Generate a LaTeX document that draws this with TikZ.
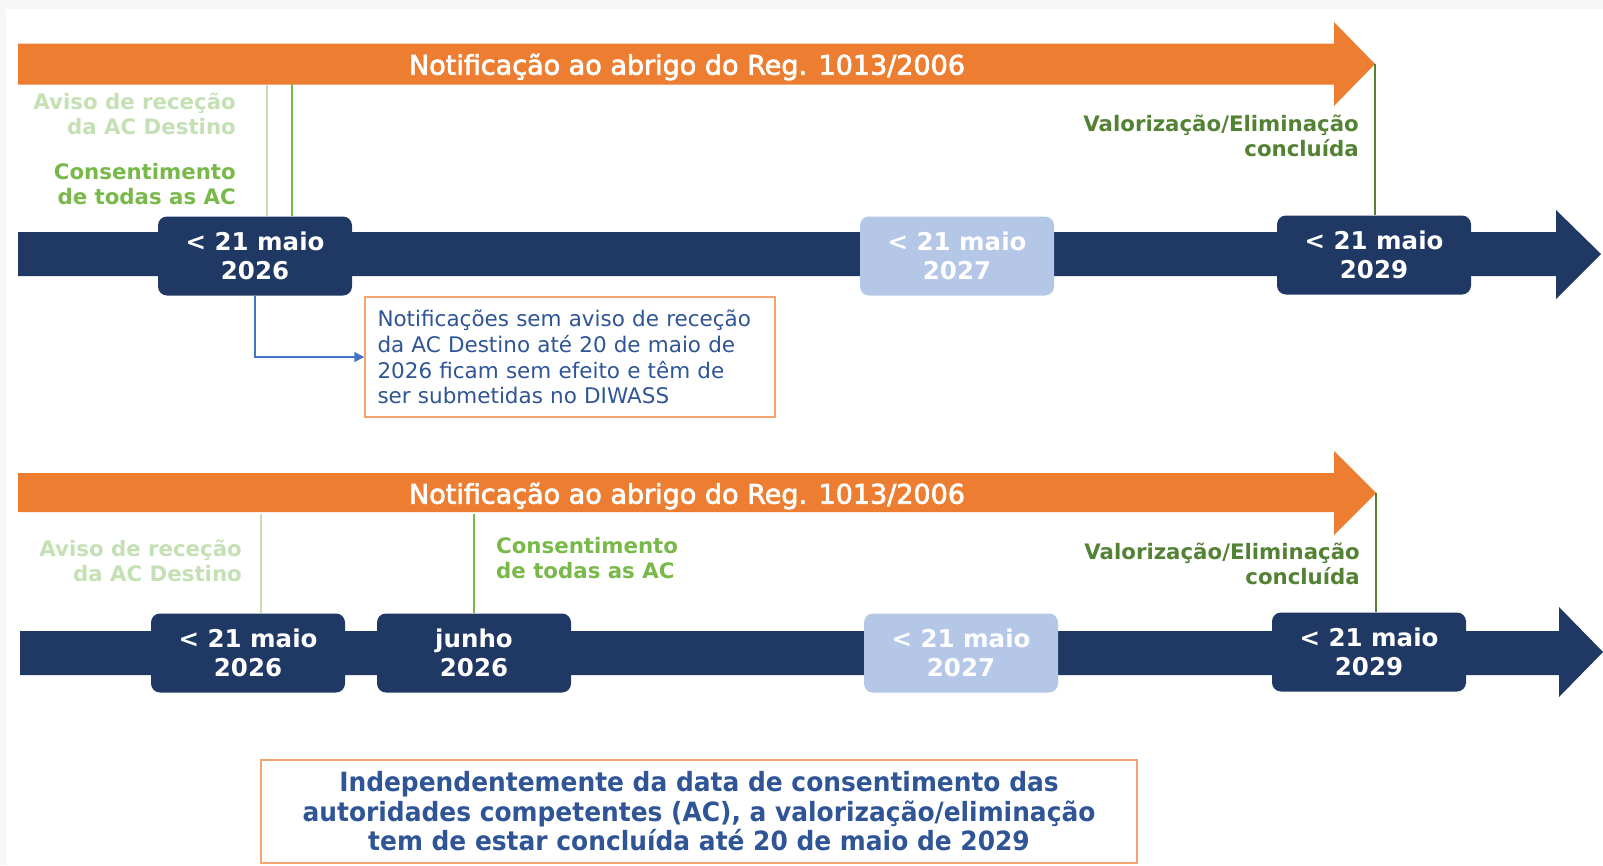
\documentclass[tikz,border=0pt]{standalone}
\usepackage{fontspec}
\setmainfont{DejaVu Sans}
\newfontfamily\narrowfont[FakeStretch=0.94]{DejaVu Sans}
\newfontfamily\titlefont[FakeBold=2.5]{DejaVu Sans}
\usetikzlibrary{arrows.meta}
\definecolor{notiforange}{HTML}{ED7D31}
\definecolor{navyline}{HTML}{203864}
\definecolor{paleblue}{HTML}{B4C7E7}
\definecolor{palegreen}{HTML}{C5E0B4}
\definecolor{midgreen}{HTML}{78B94A}
\definecolor{darkgreen}{HTML}{548235}
\definecolor{textblue}{HTML}{2F5597}
\definecolor{linkblue}{HTML}{4472C4}
\definecolor{boxorange}{HTML}{F4A46E}
\definecolor{pagegray}{HTML}{F7F7F7}

\begin{document}
\begin{tikzpicture}
	[
		x=1pt, y=-1pt,
		every node/.style = {inner sep=0pt},
		datebox/.style = {
			shape=rectangle, rounded corners=9pt, fill=navyline,
			minimum width=194pt, minimum height=79pt,
			align=center, text=white,
			font=\fontsize{24.5}{29.6}\selectfont\bfseries
		},
		laterbox/.style = {datebox, fill=paleblue},
		notiftitle/.style = {text=white, font=\titlefont\fontsize{27}{32}\selectfont},
		aviso/.style = {
			text=palegreen, align=right,
			font=\fontsize{21.3}{25.6}\selectfont\bfseries
		},
		consent/.style = {aviso, text=midgreen},
		concluded/.style = {aviso, text=darkgreen},
		avisoline/.style = {draw=palegreen, line width=2pt},
		consentline/.style = {draw=midgreen, line width=2pt},
		concludedline/.style = {draw=darkgreen, line width=2pt},
		notebox/.style = {
			draw=boxorange, line width=1.5pt, text=textblue,
			minimum width=410pt, minimum height=120pt,
			text width=385pt, inner xsep=12.5pt, align=left,
			font=\fontsize{21.5}{25.8}\selectfont
		},
		summarybox/.style = {
			draw=boxorange, line width=1.5pt, text=textblue,
			minimum width=876pt, minimum height=103pt, align=center,
			font=\narrowfont\fontsize{26.5}{29.6}\selectfont\bfseries
		}
	]
	\useasboundingbox (0,0) rectangle (1603,865);
	\fill[pagegray] (0,0) rectangle (1603,865);
	\fill[white] (6,9) rectangle (1603,865);

	\fill[notiforange] (18,43.5) -- (1334,43.5) -- (1334,22) -- (1375,64)
		-- (1334,106) -- (1334,84.5) -- (18,84.5) -- cycle;
	\fill[navyline] (18,232) -- (1556,232) -- (1556,210) -- (1601,254)
		-- (1556,299) -- (1556,276) -- (18,276) -- cycle;
	\node[notiftitle] (notifA) at (687,67) {Notificação ao abrigo do Reg. 1013/2006};
	\coordinate (tipA) at (1375,64);
	\coordinate (avisoA) at (267,85);
	\coordinate (consentA) at (292,84);

	\node[datebox] (topMay26) at (255,256) {< 21 maio\\2026};
	\node[laterbox] (topMay27) at (957,256) {< 21 maio\\2027};
	\node[datebox] (topMay29) at (1374,255) {< 21 maio\\2029};

	\node[aviso, anchor=east] (avisoTextA) at (236,114) {Aviso de receção\\da AC Destino};
	\node[consent, anchor=east] (consentTextA) at (236,184) {Consentimento\\de todas as AC};
	\node[concluded, anchor=east] (concludedTextA) at (1359,136) {Valorização/Eliminação\\concluída};
	\draw[avisoline] (avisoA) -- (avisoA |- topMay26.north);
	\draw[consentline] (consentA) -- (consentA |- topMay26.north);
	\draw[concludedline] (tipA) -- (tipA |- topMay29.north);

	\node[notebox] (note) at (570,357) {Notificações sem aviso de receção\\da AC Destino até 20 de maio de\\2026 ficam sem efeito e têm de\\ser submetidas no DIWASS};
	\draw[linkblue, line width=1.5pt, -{Triangle[length=10pt,width=10pt]}] (topMay26.south) |- (note.west);

	\fill[notiforange] (18,473) -- (1334,473) -- (1334,451) -- (1376,493)
		-- (1334,535) -- (1334,512) -- (18,512) -- cycle;
	\fill[navyline] (20,631) -- (1559,631) -- (1559,607) -- (1603,652)
		-- (1559,697) -- (1559,675) -- (20,675) -- cycle;
	\node[notiftitle] (notifB) at (687,496) {Notificação ao abrigo do Reg. 1013/2006};
	\coordinate (tipB) at (1376,493);
	\coordinate (avisoB) at (261,514);
	\coordinate (consentB) at (474,514);

	\node[datebox] (botMay26) at (248,653) {< 21 maio\\2026};
	\node[datebox] (botJun26) at (474,653) {junho\\2026};
	\node[laterbox] (botMay27) at (961,653) {< 21 maio\\2027};
	\node[datebox] (botMay29) at (1369,652) {< 21 maio\\2029};

	\node[aviso, anchor=east] (avisoTextB) at (242,561) {Aviso de receção\\da AC Destino};
	\node[consent, anchor=west, align=left] (consentTextB) at (496,558) {Consentimento\\de todas as AC};
	\node[concluded, anchor=east] (concludedTextB) at (1360,564) {Valorização/Eliminação\\concluída};
	\draw[avisoline] (avisoB) -- (avisoB |- botMay26.north);
	\draw[consentline] (consentB) -- (botJun26.north);
	\draw[concludedline] (tipB) -- (tipB |- botMay29.north);

	\node[summarybox] (summary) at (699,811.5) {Independentemente da data de consentimento das\\autoridades competentes (AC), a valorização/eliminação\\tem de estar concluída até 20 de maio de 2029};
\end{tikzpicture}
\end{document}
